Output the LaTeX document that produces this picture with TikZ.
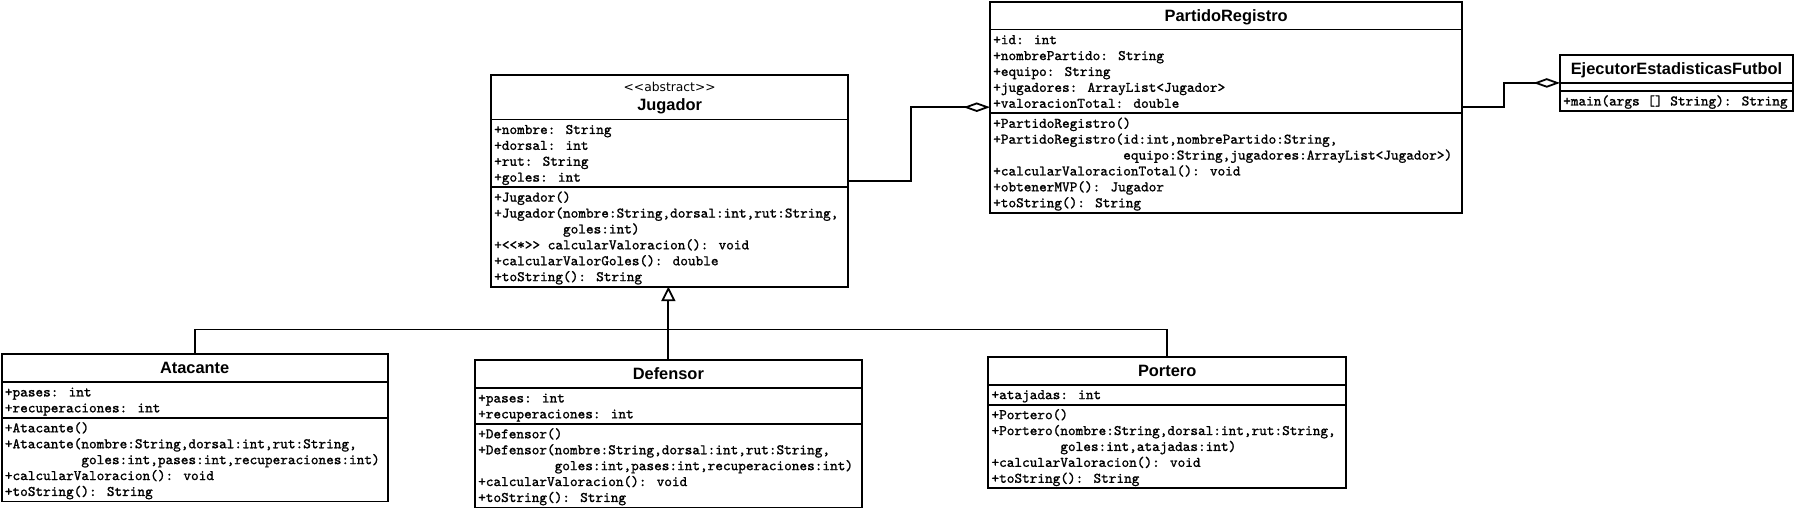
\documentclass[tikz,border=0pt]{standalone}
\usepackage{fontspec}
\usepackage{array}
\newfontfamily\headfam{Liberation Sans}
\newfontfamily\stereofam{DejaVu Sans}
\newfontfamily\monofam{lmmono10-regular.otf}[FakeBold=1.2]
\usetikzlibrary{shapes.multipart,arrows.meta}
\renewcommand{\arraystretch}{0}

\newcommand{\clsname}[1]{{\headfam\bfseries\fontsize{16.4pt}{18pt}\selectfont\rule[-5.9pt]{0pt}{23.8pt}#1}}
\newcommand{\clsabstract}[1]{\begin{tabular}{@{}c@{}}
  \rule[-4.6pt]{0pt}{19.4pt}{\stereofam\fontsize{12.3pt}{14pt}\selectfont <<abstract>>}\\
  \rule[-6.4pt]{0pt}{21.2pt}{\headfam\bfseries\fontsize{16.4pt}{18pt}\selectfont #1}
\end{tabular}}
\newcommand{\members}[1]{{\monofam\fontsize{14.57pt}{15.9pt}\selectfont
  \begin{tabular}{@{}>{\rule[-3.4pt]{0pt}{15.9pt}}l@{}}#1\end{tabular}}}

\begin{document}
\begin{tikzpicture}[x=1pt,y=-1pt,
   umlclass/.style={draw,line width=1.8pt,fill=white,rectangle split,rectangle split parts=3,
     rectangle split part align={center,left,left},inner xsep=3.2pt,inner ysep=1.15pt,
     outer sep=0pt,anchor=north west},
   link/.style={line width=1.8pt},
   aggr/.style={link,-{Diamond[open,length=26.5pt,width=9.5pt]}},
   inherit/.style={link,-{Triangle[open,length=14.5pt,width=14pt]}}]
   \fill[white] (0,0) rectangle (1796,511);
   \useasboundingbox (0,0) rectangle (1796,511);

   % abstract base class
   \node[umlclass,minimum width=357.3pt] (jug) at (491,74.7) {\clsabstract{Jugador}
     \nodepart{two}\members{+nombre: String\\+dorsal: int\\+rut: String\\+goles: int}
     \nodepart{three}\members{+Jugador()\\+Jugador(nombre:String,dorsal:int,rut:String,\\
       \phantom{+Jugador(}goles:int)\\+<<*>> calcularValoracion(): void\\
       +calcularValorGoles(): double\\+toString(): String}};

   \node[umlclass,minimum width=472.3pt] (par) at (990,1.7) {\clsname{PartidoRegistro}
     \nodepart{two}\members{+id: int\\+nombrePartido: String\\+equipo: String\\
       +jugadores: ArrayList<Jugador>\\+valoracionTotal: double}
     \nodepart{three}\members{+PartidoRegistro()\\+PartidoRegistro(id:int,nombrePartido:String,\\
       \phantom{+PartidoRegistro(}equipo:String,jugadores:ArrayList<Jugador>)\\
       +calcularValoracionTotal(): void\\+obtenerMVP(): Jugador\\+toString(): String}};

   \node[umlclass,minimum width=233pt] (eje) at (1560,55) {\clsname{EjecutorEstadisticasFutbol}
     \nodepart{two}\rule{0pt}{3.9pt}
     \nodepart{three}\members{+main(args [] String): String}};

   % subclasses
   \node[umlclass,minimum width=386pt] (ata) at (1.7,354) {\clsname{Atacante}
     \nodepart{two}\members{+pases: int\\+recuperaciones: int}
     \nodepart{three}\members{+Atacante()\\+Atacante(nombre:String,dorsal:int,rut:String,\\
       \phantom{+Atacante(}goles:int,pases:int,recuperaciones:int)\\
       +calcularValoracion(): void\\+toString(): String}};

   \node[umlclass,minimum width=386.7pt] (def) at (475,360) {\clsname{Defensor}
     \nodepart{two}\members{+pases: int\\+recuperaciones: int}
     \nodepart{three}\members{+Defensor()\\+Defensor(nombre:String,dorsal:int,rut:String,\\
       \phantom{+Defensor(}goles:int,pases:int,recuperaciones:int)\\
       +calcularValoracion(): void\\+toString(): String}};

   \node[umlclass,minimum width=357.7pt] (por) at (988.3,356.7) {\clsname{Portero}
     \nodepart{two}\members{+atajadas: int}
     \nodepart{three}\members{+Portero()\\+Portero(nombre:String,dorsal:int,rut:String,\\
       \phantom{+Portero(}goles:int,atajadas:int)\\
       +calcularValoracion(): void\\+toString(): String}};

   % generalization
   \coordinate (bus) at (669,329.5);
   \draw[inherit] (def.north) -- (def.north |- jug.south);
   \draw[link] (ata.north) |- (bus) -| (por.north);

   % aggregations
   \draw[aggr] (jug.east) -- ++(62.4,0) |- (par.west);
   \draw[aggr] (par.east) -- ++(41.7,0) |- (eje.west);
\end{tikzpicture}
\end{document}
